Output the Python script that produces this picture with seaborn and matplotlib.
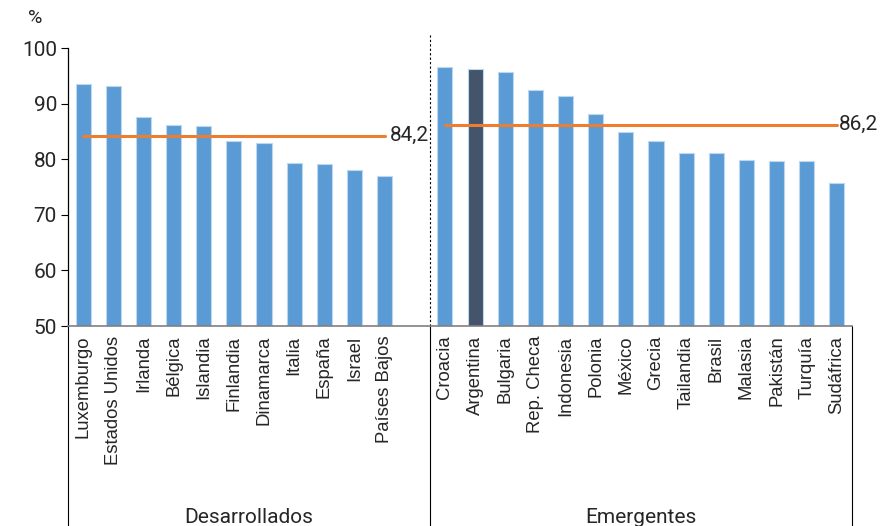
import matplotlib.pyplot as plt
import matplotlib.transforms as mtransforms
import seaborn as sns
import pandas as pd

# data
desarrollados = ['Luxemburgo', 'Estados Unidos', 'Irlanda', 'Bélgica', 'Islandia', 'Finlandia',
                 'Dinamarca', 'Italia', 'España', 'Israel', 'Países Bajos']
desarrollados_vals = [93.5, 93.2, 87.5, 86.1, 85.9, 83.2, 83.0, 79.3, 79.1, 78.0, 77.0]
emergentes = ['Croacia', 'Argentina', 'Bulgaria', 'Rep. Checa', 'Indonesia', 'Polonia', 'México',
              'Grecia', 'Tailandia', 'Brasil', 'Malasia', 'Pakistán', 'Turquía', 'Sudáfrica']
emergentes_vals = [96.6, 96.2, 95.6, 92.4, 91.4, 88.2, 84.9, 83.2, 81.2, 81.1, 79.9, 79.7, 79.6, 75.8]
promedio_desarrollados = 84.2
promedio_emergentes = 86.2
grupos = ['Desarrollados', 'Emergentes']
y_ticks = [50, 60, 70, 80, 90, 100]

BLUE = '#5B9BD5'
DARK = '#44546A'
ORANGE = '#ED7D31'

gap = ' '  # empty slot between the two groups
order = desarrollados + [gap] + emergentes
df = pd.DataFrame({'pais': desarrollados + emergentes,
                   'valor': desarrollados_vals + emergentes_vals})
colors = {p: (DARK if p == 'Argentina' else BLUE) for p in df['pais']}

sns.set_style('white')
plt.rcParams['font.family'] = ['Roboto', 'DejaVu Sans']

fig = plt.figure(figsize=(8.81, 5.26), dpi=100)
ax = fig.add_axes([68 / 881, 1 - 326 / 526, (852 - 68) / 881, 278 / 526])

sns.barplot(data=df, x='pais', y='valor', order=order, hue='pais', palette=colors,
            legend=False, width=0.5, saturation=1, edgecolor='#BDD7EE', linewidth=0.8, ax=ax)

ax.set_ylim(50, 100)
ax.set_xlim(-0.5, len(order) - 0.5)
ax.set_yticks(y_ticks)
ax.set_yticklabels([str(t) for t in y_ticks], fontsize=15)
ax.tick_params(axis='y', direction='out', length=5, width=0.8, color='black', left=True, pad=3)
ax.tick_params(axis='x', length=0, pad=7)
ax.set_xticks(range(len(order)))
ax.set_xticklabels(order, rotation=90, fontsize=13.3, family=['Liberation Sans', 'DejaVu Sans'],
                   va='top', ha='center')
ax.set_xlabel('')
ax.set_ylabel('')
for s in ['top', 'right']:
    ax.spines[s].set_visible(False)
ax.spines['left'].set_color('black')
ax.spines['left'].set_linewidth(0.9)
ax.spines['bottom'].set_color('#808080')
ax.spines['bottom'].set_linewidth(1.2)

# average lines
i0 = 0
i1 = len(desarrollados) - 1
j0 = len(desarrollados) + 1
j1 = len(order) - 1
ax.plot([i0, i1], [promedio_desarrollados] * 2, color=ORANGE, lw=2.2)
ax.plot([j0, j1], [promedio_emergentes] * 2, color=ORANGE, lw=2.2)
ax.text(i1 + 0.18, promedio_desarrollados, f'{promedio_desarrollados:.1f}'.replace('.', ','),
        fontsize=15, va='center', ha='left')
ax.text(j1 + 0.08, promedio_emergentes, f'{promedio_emergentes:.1f}'.replace('.', ','),
        fontsize=15, va='center', ha='left', clip_on=False)

# separators and group frame
trans = mtransforms.blended_transform_factory(ax.transData, ax.transAxes)
sep = len(desarrollados) + 0.5
ax.plot([sep, sep], [0, 1.055], transform=trans, color='black', lw=0.8, ls=(0, (2, 2)),
        clip_on=False)
for xv in [-0.5, sep, len(order) - 0.5]:
    ax.plot([xv, xv], [0, -0.75], transform=trans, color='black', lw=0.8, clip_on=False)
ax.text((-0.5 + sep) / 2, -0.69, grupos[0], transform=trans, ha='center', va='center',
        fontsize=15)
ax.text((sep + len(order) - 0.5) / 2, -0.69, grupos[1], transform=trans, ha='center',
        va='center', fontsize=15)

fig.text(35 / 881, 1 - 18 / 526, '%', fontsize=14, ha='center', va='center')

fig.savefig('out.png', dpi=100)
